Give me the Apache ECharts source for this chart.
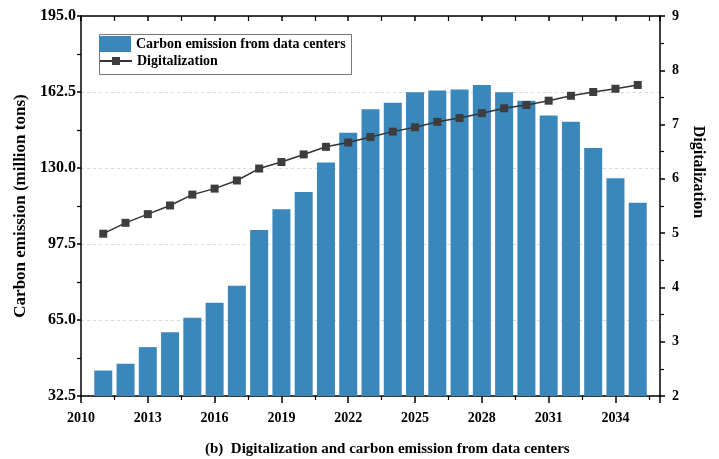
<!DOCTYPE html>
<html>
<head>
<meta charset="utf-8">
<script src="https://cdn.jsdelivr.net/npm/echarts@6/dist/echarts.min.js"></script>
<style>
  html, body { margin: 0; padding: 0; background: #fff; }
  #chart { width: 719px; height: 459px; }
</style>
</head>
<body>
<div id="chart"></div>
<script>
// Years shown on the horizontal axis
const years = [2011, 2012, 2013, 2014, 2015, 2016, 2017, 2018, 2019, 2020, 2021, 2022, 2023,
               2024, 2025, 2026, 2027, 2028, 2029, 2030, 2031, 2032, 2033, 2034, 2035];

// Carbon emission from data centers (million tons)
const emission = [43.4, 46.3, 53.4, 59.8, 66.0, 72.4, 79.6, 103.5, 112.4, 119.7, 132.3, 145.1, 155.1,
                  157.9, 162.4, 163.1, 163.6, 165.5, 162.4, 158.8, 152.4, 149.8, 138.5, 125.6, 115.1];

// Digitalization index
const digitalization = [4.99, 5.19, 5.35, 5.51, 5.71, 5.82, 5.97, 6.19, 6.31, 6.45, 6.59, 6.67, 6.77,
                        6.87, 6.95, 7.05, 7.12, 7.21, 7.30, 7.36, 7.44, 7.53, 7.60, 7.66, 7.73];

// Axis ranges: [min, max, interval]
const xRange = [2010, 2036, 3];
const emissionRange = [32.5, 195, 32.5];
const digitalRange = [2, 9, 1];

const serif = 'Liberation Serif';
const black = '#000';
const axisLineStyle = { color: black, width: 1.5 };
const minorStyle = { color: black, width: 1.2 };
const labelStyle = { fontFamily: serif, fontWeight: 'bold', fontSize: 14, color: black };

const chart = echarts.init(document.getElementById('chart'));

chart.setOption({
  animation: false,
  backgroundColor: '#fff',
  title: {
    text: '(b)  Digitalization and carbon emission from data centers',
    left: 205,
    top: 442,
    padding: 0,
    textStyle: { fontFamily: serif, fontWeight: 'bold', fontSize: 15, color: black }
  },
  grid: { left: 81, right: 59, top: 16, bottom: 63 },
  legend: [
    {
      data: [{ name: 'Carbon emission from data centers', icon: 'rect' }],
      left: 99, top: 36, padding: 0,
      itemWidth: 32, itemHeight: 16,
      textStyle: labelStyle
    },
    {
      data: ['Digitalization'],
      left: 99, top: 54, padding: 0,
      itemWidth: 32, itemHeight: 10,
      textStyle: labelStyle
    }
  ],
  graphic: [{
    type: 'rect',
    left: 97, top: 32,
    shape: { width: 252, height: 40 },
    style: { fill: 'none', stroke: '#777', lineWidth: 1 },
    silent: true
  }],
  xAxis: [
    {
      type: 'value',
      position: 'bottom',
      min: xRange[0], max: xRange[1], interval: xRange[2],
      axisLine: { lineStyle: axisLineStyle },
      axisTick: { length: 7, lineStyle: axisLineStyle },
      minorTick: { show: true, splitNumber: 2, length: 4, lineStyle: minorStyle },
      axisLabel: Object.assign({ margin: 15, showMaxLabel: false, formatter: v => String(v) }, labelStyle),
      splitLine: { show: false }
    },
    {
      type: 'value',
      position: 'top',
      min: xRange[0], max: xRange[1], interval: xRange[2],
      axisLine: { lineStyle: axisLineStyle },
      axisTick: { inside: true, length: 5, lineStyle: axisLineStyle },
      minorTick: { show: true, splitNumber: 2, length: 5, lineStyle: minorStyle },
      axisLabel: { show: false },
      splitLine: { show: false }
    }
  ],
  yAxis: [
    {
      type: 'value',
      position: 'left',
      min: emissionRange[0], max: emissionRange[1], interval: emissionRange[2],
      name: 'Carbon emission (million tons)',
      nameLocation: 'middle',
      nameGap: 50,
      nameTextStyle: { fontFamily: serif, fontWeight: 'bold', fontSize: 17, color: black },
      axisLine: { show: true, lineStyle: axisLineStyle },
      axisTick: { show: true, length: 4, lineStyle: axisLineStyle },
      minorTick: { show: true, splitNumber: 2, length: 4, lineStyle: minorStyle },
      axisLabel: Object.assign({}, labelStyle, { margin: 5, fontSize: 16, formatter: v => v.toFixed(1) }),
      splitLine: { show: true, lineStyle: { color: '#d9d9d9', type: [3, 3], width: 1 } }
    },
    {
      type: 'value',
      position: 'right',
      min: digitalRange[0], max: digitalRange[1], interval: digitalRange[2],
      name: 'Digitalization',
      nameLocation: 'middle',
      nameRotate: -90,
      nameGap: 25,
      nameTextStyle: { fontFamily: serif, fontWeight: 'bold', fontSize: 16, color: black, padding: [0, 68, 0, 0] },
      axisLine: { show: true, lineStyle: axisLineStyle },
      axisTick: { show: true, length: 5, lineStyle: axisLineStyle },
      minorTick: { show: true, splitNumber: 2, length: 4, lineStyle: minorStyle },
      axisLabel: Object.assign({}, labelStyle, { margin: 12 }),
      splitLine: { show: false }
    }
  ],
  series: [
    {
      name: 'Carbon emission from data centers',
      type: 'bar',
      xAxisIndex: 0,
      yAxisIndex: 0,
      barWidth: 18,
      itemStyle: { color: '#3a87bc' },
      data: years.map((y, i) => [y, emission[i]])
    },
    {
      name: 'Digitalization',
      type: 'line',
      xAxisIndex: 0,
      yAxisIndex: 1,
      symbol: 'rect',
      symbolSize: 8,
      lineStyle: { color: '#333', width: 1.5 },
      itemStyle: { color: '#3d3d3d' },
      z: 5,
      data: years.map((y, i) => [y, digitalization[i]])
    }
  ]
});
</script>
</body>
</html>
